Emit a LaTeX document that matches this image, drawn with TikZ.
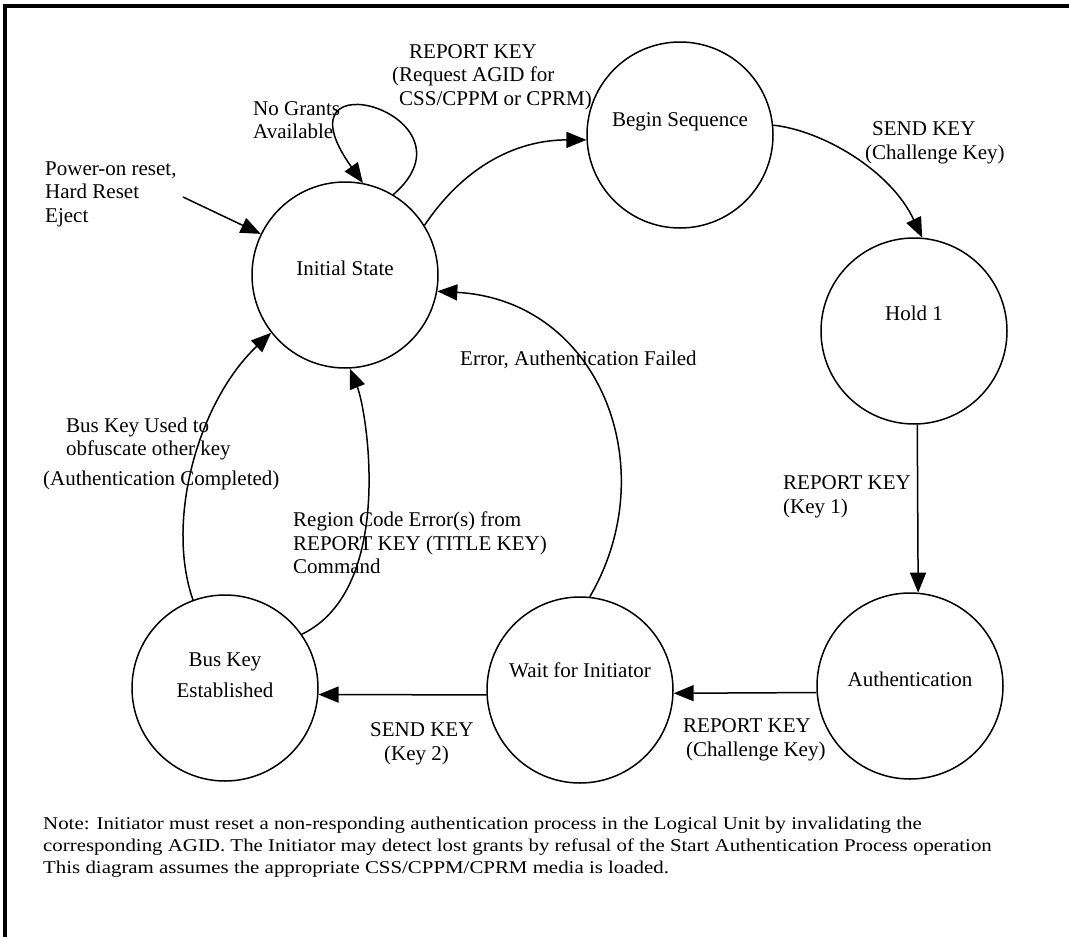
\documentclass[tikz,border=0pt]{standalone}
\usepackage{fontspec}
\usepackage{graphicx}
\setmainfont{Liberation Serif}
\usetikzlibrary{arrows.meta}

\newcommand{\lblfont}{\fontsize{21}{23.5}\selectfont}
\newcommand{\notefont}{\fontsize{18}{22}\selectfont}

\tikzset{
  state/.style={circle, draw, line width=1.5pt, minimum size=186pt, inner sep=0pt},
  tr/.style={line width=1.5pt, -{Triangle[length=20pt,width=16pt]}},
  lbl/.style={font=\lblfont, align=left, inner sep=0pt, anchor=west},
  statelbl/.style={font=\lblfont, align=center, inner sep=0pt},
  frame/.style={line width=4pt}
}

\begin{document}
\begin{tikzpicture}[x=1pt,y=-1pt]
\useasboundingbox (0,0) rectangle (1069,937);

% outer frame (top and left edges only)
\draw[frame] (5,937) -- (5,6) -- (1069,6);

% states
\node[state, label={[statelbl,yshift=7pt]center:Initial State}] (init) at (345,275) {};
\node[state, label={[statelbl,yshift=13pt]center:Begin Sequence}] (begin) at (680,135) {};
\node[state, label={[statelbl,yshift=18pt]center:Hold 1}] (hold) at (914,331) {};
\node[state, label={[statelbl,yshift=7pt]center:Authentication}] (auth) at (910,686) {};
\node[state, label={[statelbl,yshift=20pt]center:Wait for Initiator}] (wait) at (580,690) {};
\node[state, label={[statelbl,yshift=13pt]center:Bus Key\\[7pt]Established}] (bus) at (225,688) {};

% entry point
\coordinate (reset) at (183,197);
\draw[tr] (reset) -- (init.154);

% transitions
\draw[tr] (init.59) .. controls +(92,-80) and +(-93,-130) .. (init.79);
\draw[tr] (init.32) .. controls +(41,-61) and +(-68,0) .. (begin.183);
\draw[tr] (begin.6) .. controls +(48,5) and +(-32,-68) .. (hold.85);
\draw[tr] (hold.-88) -- (auth.85);
\draw[tr] (auth.184) -- (wait.-2);
\draw[tr] (wait.183) -- (bus.-4);
\draw[tr] (wait.84) .. controls +(75,-128) and +(163,9) .. (init.-10);
\draw[tr] (bus.110) .. controls +(-28,-81) and +(-72,68) .. (init.218);
\draw[tr] (bus.35) .. controls +(94,-45) and +(17,42) .. (init.-87);

% transition labels
\node[lbl] (tReset) at (45,194) {Power-on reset,\\Hard Reset\\Eject};
\node[lbl] (tLoop) at (253,120) {No Grants\\Available};
\node[lbl] (tAgid) at (392,77) {\hspace*{17pt}REPORT KEY\\(Request AGID for\\\hspace*{7pt}CSS/CPPM or CPRM)};
\node[lbl] (tChal) at (865,143) {\hspace*{7pt}SEND KEY\\(Challenge Key)};
\node[lbl] (tFail) at (460,360) {Error, Authentication Failed};
\node[lbl] (tKey1) at (783,497) {REPORT KEY\\(Key 1)};
\node[lbl] (tBus) at (66,439) {Bus Key Used to\\obfuscate other key};
\node[lbl] (tDone) at (43,480) {(Authentication Completed)};
\node[lbl] (tRegion) at (293,543) {Region Code Error(s) from\\REPORT KEY (TITLE KEY)\\Command};
\node[lbl] (tChal2) at (683,740) {REPORT KEY\\\hspace*{3pt}(Challenge Key)};
\node[lbl] (tKey2) at (370,744) {SEND KEY\\\hspace*{14pt}(Key 2)};

% note below the diagram
\node[inner sep=0pt, anchor=west] (note) at (43,847)
  {\scalebox{1.16}[1]{\notefont\begin{tabular}{@{}l@{}}
   Note: Initiator must reset a non-responding authentication process in the Logical Unit by invalidating the\\
   corresponding AGID. The Initiator may detect lost grants by refusal of the Start Authentication Process operation\\
   This diagram assumes the appropriate CSS/CPPM/CPRM media is loaded.
   \end{tabular}}};
\end{tikzpicture}
\end{document}
